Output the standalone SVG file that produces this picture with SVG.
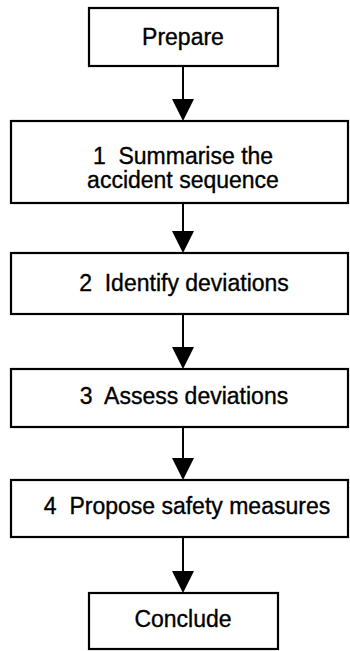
<svg xmlns="http://www.w3.org/2000/svg" width="350" height="651" viewBox="0 0 350 651">
  <style>
    .box { fill: #ffffff; stroke: #000000; stroke-width: 2.2; }
    .lbl { font-family: "Liberation Sans", Arial, sans-serif; font-size: 23px; fill: #000000; stroke: #000000; stroke-width: 0.35; text-anchor: middle; }
    .wire { stroke: #000000; stroke-width: 2; fill: none; }
    .head { fill: #000000; }
  </style>
  <rect width="350" height="651" fill="#ffffff"/>

  <g id="connectors">
    <line class="wire" x1="183" y1="66" x2="183" y2="100"/>
    <polygon class="head" points="172,99 194,99 183,121"/>
    <line class="wire" x1="183" y1="203" x2="183" y2="232"/>
    <polygon class="head" points="172,231 194,231 183,253"/>
    <line class="wire" x1="183" y1="314" x2="183" y2="348"/>
    <polygon class="head" points="172,347 194,347 183,369"/>
    <line class="wire" x1="183" y1="427" x2="183" y2="459"/>
    <polygon class="head" points="172,458 194,458 183,480"/>
    <line class="wire" x1="183" y1="537" x2="183" y2="572"/>
    <polygon class="head" points="172,571 194,571 183,593"/>
  </g>

  <g id="prepare">
    <rect class="box" x="89" y="8" width="189" height="58"/>
    <text class="lbl" x="183" y="45">Prepare</text>
  </g>

  <g id="step1">
    <rect class="box" x="11" y="121" width="337" height="82"/>
    <text class="lbl" x="183" y="164">1&#160; Summarise the</text>
    <text class="lbl" x="183" y="188">accident sequence</text>
  </g>

  <g id="step2">
    <rect class="box" x="11" y="253" width="337" height="61"/>
    <text class="lbl" x="184" y="291">2&#160; Identify deviations</text>
  </g>

  <g id="step3">
    <rect class="box" x="11" y="369" width="337" height="58"/>
    <text class="lbl" x="184" y="404">3&#160; Assess deviations</text>
  </g>

  <g id="step4">
    <rect class="box" x="11" y="480" width="337" height="57"/>
    <text class="lbl" x="187" y="514">4&#160; Propose safety measures</text>
  </g>

  <g id="conclude">
    <rect class="box" x="89" y="593" width="189" height="56"/>
    <text class="lbl" x="183" y="627">Conclude</text>
  </g>
</svg>
